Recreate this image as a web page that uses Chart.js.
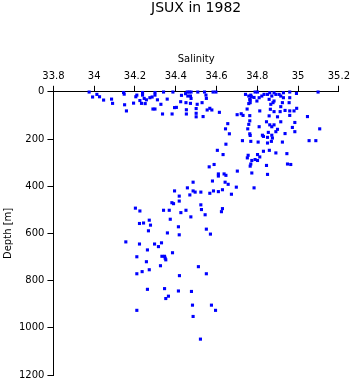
<!DOCTYPE html>
<html>
<head>
<meta charset="utf-8">
<script src="https://cdn.jsdelivr.net/npm/chart.js@4/dist/chart.umd.min.js"></script>
<style>
  body { margin: 0; background: #fff; }
  #wrap { width: 353px; height: 384px; }
</style>
</head>
<body>
<div id="wrap"><canvas id="chart" width="353" height="384"></canvas></div>
<script>
const salinity = [
  33.975, 33.992, 34.013, 34.026, 34.046, 34.085, 34.090, 34.144, 34.147, 34.149,
  34.158, 34.193, 34.204, 34.209, 34.224, 34.232, 34.237, 34.237, 34.245, 34.250,
  34.256, 34.273, 34.284, 34.298, 34.298, 34.310, 34.327, 34.288, 34.298, 34.340,
  34.358, 34.335,
  34.386, 34.394, 34.403, 34.382, 34.428, 34.424, 34.448, 34.456, 34.466, 34.475,
  34.459, 34.472, 34.475, 34.508, 34.541, 34.548, 34.550, 34.583, 34.597, 34.450,
  34.472, 34.505, 34.529, 34.452, 34.452, 34.500, 34.500, 34.500, 34.534, 34.554,
  34.567, 34.577, 34.614,
  34.655, 34.644, 34.663, 34.701, 34.721, 34.730, 34.750, 34.763, 34.763, 34.758,
  34.753, 34.763, 34.742, 34.758, 34.763, 34.758, 34.771, 34.784, 34.768, 34.765,
  34.765, 34.789, 34.801,
  34.809, 34.822, 34.833, 34.798, 34.850, 34.861, 34.871, 34.882, 34.891, 34.858,
  34.866, 34.877, 34.882, 34.907, 34.915, 34.928, 34.928, 34.923, 34.915, 34.959,
  34.959, 34.956, 34.992, 35.098, 34.812, 34.864, 34.882, 34.912, 34.936, 34.959,
  34.959, 34.980, 34.993, 35.046, 34.858, 34.899, 34.845, 34.861, 34.871, 34.882,
  34.915, 34.809, 34.854, 34.891, 34.899, 34.972, 34.984, 34.984, 34.936, 34.825,
  34.871, 35.106,
  34.830, 34.850, 34.804, 34.850, 34.869, 34.874, 34.923, 35.054, 35.087, 34.830,
  34.859, 34.891, 34.945, 34.801, 34.812, 34.789, 34.801, 34.845, 34.850, 34.948,
  34.964, 34.784,
  34.765, 34.727, 34.768, 34.646, 34.604, 34.632, 34.755, 34.751, 34.773, 34.768,
  34.765, 34.588, 34.564, 34.773, 34.702, 34.609, 34.609, 34.637, 34.646, 34.485,
  34.580, 34.642, 34.657, 34.697, 34.673, 34.457, 34.485, 34.495, 34.523, 34.585,
  34.609, 34.629, 34.567, 34.417, 34.469, 34.417, 34.523, 34.526, 34.450, 34.425,
  34.474, 34.544, 34.629, 34.624,
  34.394, 34.381, 34.389, 34.368, 34.340, 34.202, 34.224, 34.270, 34.276, 34.222,
  34.242, 34.373, 34.413, 34.417, 34.550, 34.570, 34.266, 34.359, 34.155, 34.222,
  34.296, 34.315, 34.330, 34.384, 34.261, 34.209, 34.332, 34.345, 34.348, 34.351,
  34.256, 34.325, 34.511, 34.550, 34.270, 34.235, 34.209, 34.418, 34.261, 34.345,
  34.413, 34.477, 34.351, 34.364, 34.482, 34.575, 34.595, 34.209, 34.485, 34.521
];

const depth = [
  1, 22, 11, 21, 35, 31, 49, 3, 10, 55,
  81, 48, 21, 14, 37, 49, 3, 14, 28, 50,
  34, 25, 22, 3, 14, 34, 53, 73, 73, 1,
  31, 94,
  1, 67, 66, 94, 15, 42, 8, 1, 1, 1,
  18, 18, 28, 1, 1, 14, 28, 1, 1, 46,
  49, 53, 46, 76, 94, 71, 91, 106, 105, 77,
  70, 77, 87,
  135, 157, 178, 97, 93, 100, 73, 101, 123, 138,
  157, 178, 11, 18, 32, 50, 21, 24, 14, 35,
  46, 1, 1,
  25, 18, 11, 39, 11, 4, 18, 4, 11, 32,
  53, 46, 39, 11, 18, 4, 25, 46, 63, 1,
  25, 46, 7, 1, 81, 74, 84, 84, 79, 81,
  100, 81, 70, 105, 102, 106, 127, 140, 148, 140,
  127, 148, 172, 169, 159, 151, 130, 169, 177, 184,
  184, 157,
  189, 193, 213, 217, 210, 196, 213, 207, 207, 252,
  248, 259, 262, 266, 276, 287, 291, 312, 350, 306,
  308, 407,
  185, 207, 210, 222, 248, 266, 269, 280, 291, 306,
  315, 308, 318, 344, 336, 348, 357, 348, 354, 383,
  378, 383, 392, 404, 434, 407, 420, 425, 425, 420,
  423, 415, 430, 442, 437, 463, 479, 499, 502, 512,
  530, 521, 495, 508,
  420, 470, 474, 502, 502, 493, 505, 544, 565, 558,
  556, 540, 572, 606, 582, 603, 589, 598, 636, 645,
  645, 656, 640, 682, 670, 699, 697, 697, 705, 712,
  720, 737, 741, 771, 754, 762, 771, 779, 837, 834,
  844, 846, 876, 866, 904, 904, 926, 926, 952, 1048
];

const xTickLabels = ['33.8', '34', '34.2', '34.4', '34.6', '34.8', '35', '35.2'];
const yTickLabels = ['0', '200', '400', '600', '800', '1000', '1200'];

const points = salinity.map((s, i) => ({ x: s, y: depth[i] }));

const font = { family: 'DejaVu Sans', size: 10 };

const ctx = document.getElementById('chart').getContext('2d');
new Chart(ctx, {
    type: 'scatter',
    data: {
        datasets: [{
            data: points,
            pointStyle: 'rect',
            pointRadius: 2.2,
            pointBorderWidth: 0,
            backgroundColor: '#0000ff',
            borderColor: '#0000ff',
            clip: false
        }]
    },
    options: {
        responsive: false,
        animation: false,
        layout: { padding: { left: 0, right: 13, top: 0, bottom: 5 } },
        plugins: {
            legend: { display: false },
            tooltip: { enabled: false },
            title: {
                display: true,
                text: 'JSUX in 1982',
                color: '#000',
                fullSize: false,
                font: { family: 'DejaVu Sans', size: 14, weight: 'normal' },
                padding: { top: 0, bottom: 33 }
            }
        },
        scales: {
            x: {
                type: 'linear',
                position: 'top',
                min: 33.8,
                max: 35.2,
                grid: { drawOnChartArea: false, color: '#000', tickLength: 6 },
                border: { display: true, color: '#000', width: 1 },
                ticks: {
                    stepSize: 0.2,
                    color: '#000',
                    font: font,
                    padding: 3,
                    maxRotation: 0,
                    callback: (v, i) => xTickLabels[i]
                },
                title: {
                    display: true,
                    text: 'Salinity',
                    color: '#000',
                    font: font,
                    padding: { top: 4, bottom: 2 }
                }
            },
            y: {
                type: 'linear',
                reverse: true,
                min: 0,
                max: 1200,
                grid: { drawOnChartArea: false, color: '#000', tickLength: 6 },
                border: { display: true, color: '#000', width: 1 },
                ticks: {
                    stepSize: 200,
                    color: '#000',
                    font: font,
                    padding: 3,
                    callback: (v) => yTickLabels[Math.round(v / 200)]
                },
                title: {
                    display: true,
                    text: 'Depth [m]',
                    color: '#000',
                    font: font,
                    padding: { top: 2, bottom: 2 }
                }
            }
        }
    }
});
</script>
</body>
</html>
